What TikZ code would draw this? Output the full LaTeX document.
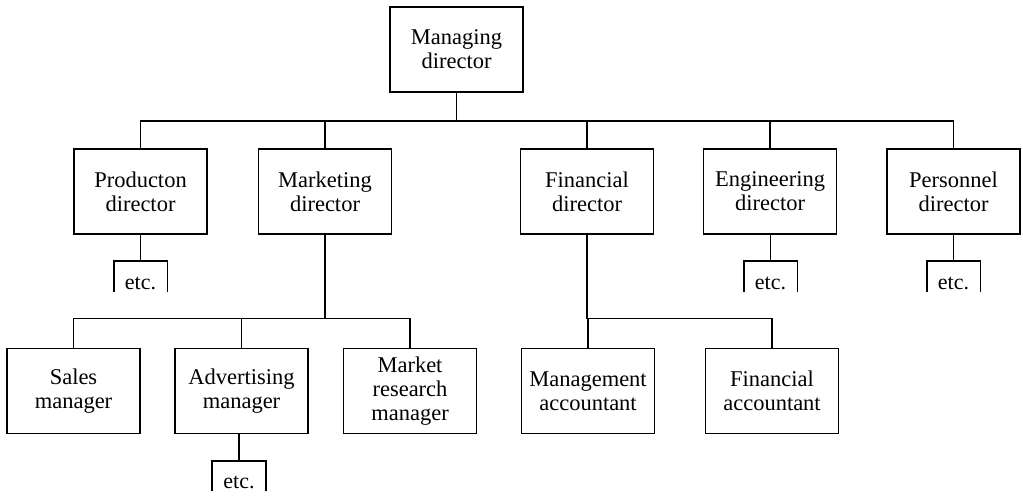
\documentclass[tikz,border=0pt]{standalone}
\usepackage{fontspec}
\setmainfont{Liberation Serif}
\begin{document}
\begin{tikzpicture}[x=1pt,y=-1pt,
  line width=1.8pt,
  post/.style={draw, line width=1.8pt, minimum width=133pt, minimum height=85pt,
    inner sep=0pt, align=center, font=\fontsize{22.5}{24}\selectfont},
  etcbox/.style={minimum width=52pt, minimum height=29pt, inner sep=1.5pt,
    text height=25.5pt, text depth=0pt, font=\fontsize{22}{24}\selectfont}]
\useasboundingbox (0,0) rectangle (1023,496);
\fill[white] (0,0) rectangle (1023,496);

% top of the hierarchy
\node[post] (md) at (456.5,49.5) {Managing\\director};

% directors
\node[post] (pd) at (140.5,191.5) {Producton\\director};
\node[post] (mk) at (325,191.5) {Marketing\\director};
\node[post] (fd) at (587,191.5) {Financial\\director};
\node[post] (ed) at (770,191.5) {Engineering\\director};
\node[post] (pe) at (953.5,191.5) {Personnel\\director};

% managers under marketing and finance
\node[post] (sm) at (73.5,391) {Sales\\manager};
\node[post] (am) at (241.5,391) {Advertising\\manager};
\node[post] (mr) at (410,391) {Market\\research\\manager};
\node[post] (ma) at (588,391) {Management\\accountant};
\node[post] (fa) at (772,391) {Financial\\accountant};

% open-ended branches
\node[etcbox] (e1) at (140.5,276.5) {etc.};
\node[etcbox] (e2) at (770.5,276.5) {etc.};
\node[etcbox] (e3) at (953.5,276.5) {etc.};
\node[etcbox] (e4) at (239,476) {etc.};

% bus lines
\coordinate (bus1) at (0,121);
\coordinate (bus2) at (0,318.5);

\draw (md.south) -- (md.south |- bus1);
\draw (pd.north) -- (pd.north |- bus1) -- (pe.north |- bus1) -- (pe.north);
\draw (mk.north) -- (mk.north |- bus1);
\draw (fd.north) -- (fd.north |- bus1);
\draw (ed.north) -- (ed.north |- bus1);

\draw (mk.south) -- (mk.south |- bus2);
\draw (sm.north) -- (sm.north |- bus2) -- (mr.north |- bus2) -- (mr.north);
\draw (am.north) -- (am.north |- bus2);

\draw (fd.south) -- (fd.south |- bus2);
\draw (ma.north) -- (ma.north |- bus2) -- (fa.north |- bus2) -- (fa.north);

% stems and brackets of the open branches
\draw (pd.south -| e1.north) -- (e1.north);
\draw (ed.south -| e2.north) -- (e2.north);
\draw (pe.south -| e3.north) -- (e3.north);
\draw (am.south -| e4.north) -- (e4.north);
\foreach \e in {e1,e2,e3,e4}
  \draw (\e.south west) |- (\e.north) -| (\e.south east);
\end{tikzpicture}
\end{document}
